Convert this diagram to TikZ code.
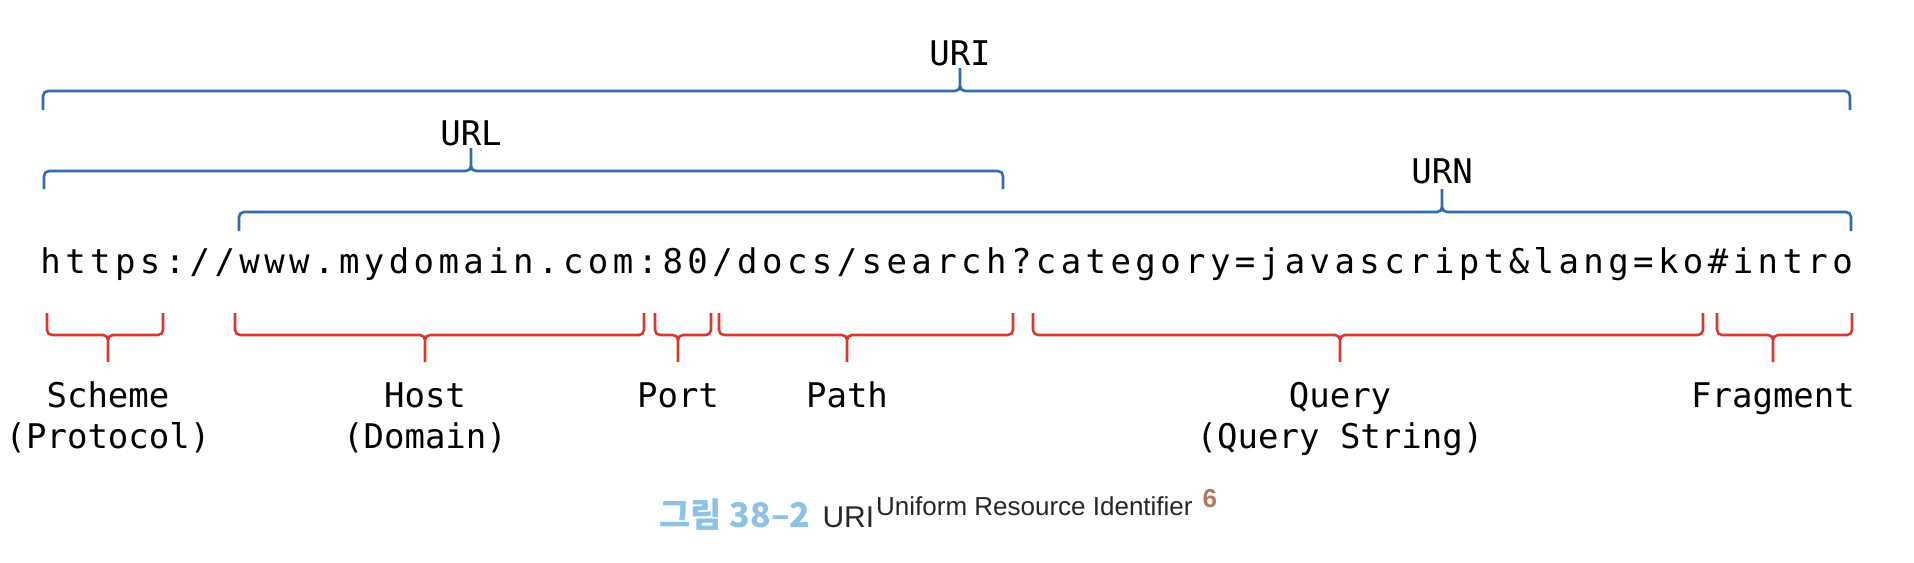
\documentclass[tikz,border=0pt]{standalone}
\usepackage{fontspec}
\usepackage{xcolor}
\newfontfamily\codefont{DejaVu Sans Mono}
\newfontfamily\spacedcode[LetterSpace=13]{DejaVu Sans Mono}
\newfontfamily\captionlatin{Liberation Sans}
\newfontfamily\captionkor{Noto Sans CJK KR}
\definecolor{uriblue}{RGB}{46,108,178}
\definecolor{partred}{RGB}{214,58,46}
\definecolor{figblue}{RGB}{140,194,230}
\definecolor{notebrown}{RGB}{178,118,90}

\begin{document}
\begin{tikzpicture}[x=0.5pt, y=-0.5pt,
        every node/.style={inner sep=0pt, font=\codefont\fontsize{17}{20.5}\selectfont},
        partname/.style={anchor=base, align=center},
        bluebrace/.style={draw=uriblue, line width=1.3pt, rounded corners=2.5pt},
        redbrace/.style={draw=partred, line width=1.3pt, rounded corners=2.5pt}]
        \useasboundingbox (0,0) rectangle (1914,562);

        % the address itself
        \node (addr) [anchor=base west, font=\spacedcode\fontsize{17}{20.5}\selectfont] at (40,273)
            {https://www.mydomain.com:80/docs/search?category=javascript\&lang=ko\#intro};

        % names above
        \node (uri) [partname] at (960,65) {URI};
        \node (url) [partname] at (471,145) {URL};
        \node (urn) [partname] at (1442,183) {URN};

        % parts below (two-line names sit on their last line)
        \node (scheme) [partname] at (108,448) {Scheme\\(Protocol)};
        \node (host) [partname] at (425,448) {Host\\(Domain)};
        \node (port) [partname] at (678,407) {Port};
        \node (path) [partname] at (847,407) {Path};
        \node (query) [partname] at (1340,448) {Query\\(Query String)};
        \node (fragment) [partname] at (1773,407) {Fragment};

        \draw [bluebrace] (43,110) |- (uri.south |- 0,91) -- (uri.south |- 0,68)
            (uri.south |- 0,68) -- (uri.south |- 0,91) -| (1850,110);
        \draw [bluebrace] (44,189) |- (url.south |- 0,171) -- (url.south |- 0,148)
            (url.south |- 0,148) -- (url.south |- 0,171) -| (1003,189);
        \draw [bluebrace] (239,231) |- (urn.south |- 0,212) -- (urn.south |- 0,189)
            (urn.south |- 0,189) -- (urn.south |- 0,212) -| (1851,231);

        \draw [redbrace] (47,313) |- (scheme.north |- 0,335) -- (scheme.north |- 0,362)
            (scheme.north |- 0,362) -- (scheme.north |- 0,335) -| (163,313);
        \draw [redbrace] (235,313) |- (host.north |- 0,335) -- (host.north |- 0,362)
            (host.north |- 0,362) -- (host.north |- 0,335) -| (644,313);
        \draw [redbrace] (655,313) |- (port.north |- 0,335) -- (port.north |- 0,362)
            (port.north |- 0,362) -- (port.north |- 0,335) -| (711,313);
        \draw [redbrace] (719,313) |- (path.north |- 0,335) -- (path.north |- 0,362)
            (path.north |- 0,362) -- (path.north |- 0,335) -| (1013,313);
        \draw [redbrace] (1033,313) |- (query.north |- 0,335) -- (query.north |- 0,362)
            (query.north |- 0,362) -- (query.north |- 0,335) -| (1703,313);
        \draw [redbrace] (1717,313) |- (fragment.north |- 0,335) -- (fragment.north |- 0,362)
            (fragment.north |- 0,362) -- (fragment.north |- 0,335) -| (1852,313);

        % caption
        \node (caption) [anchor=base west, font=\captionlatin\fontsize{15}{17}\selectfont] at (659,527)
            {{\captionkor\bfseries\fontsize{17}{19}\selectfont\color{figblue}그림 38–2}\hspace{6pt}%
             {\color{black!85}URI}\hspace{1pt}%
             \raisebox{6pt}{\fontsize{13}{14}\selectfont\color{black!85}Uniform Resource Identifier}\hspace{5pt}%
             \raisebox{10pt}{\bfseries\fontsize{13}{14}\selectfont\color{notebrown}6}};
    \end{tikzpicture}
\end{document}
